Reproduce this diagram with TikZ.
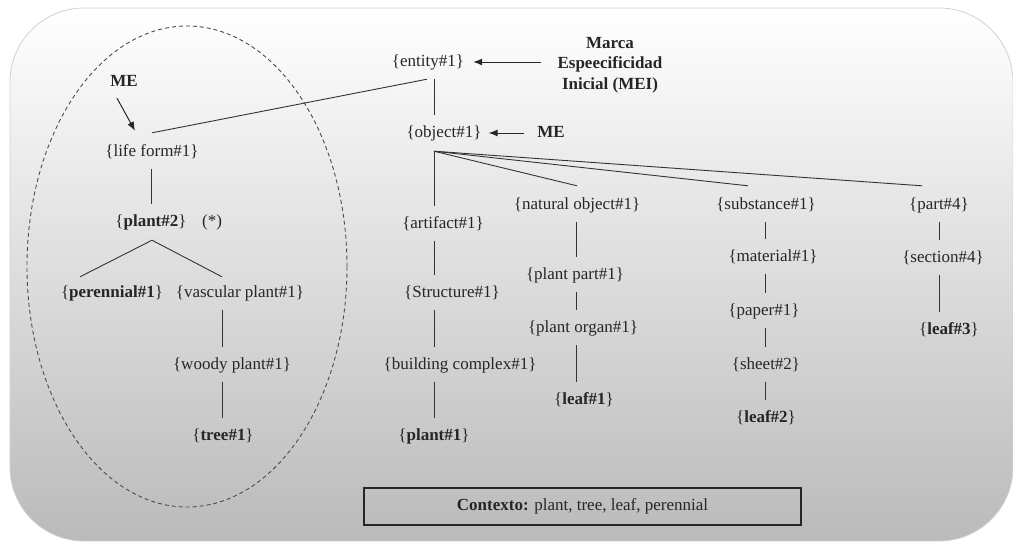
\documentclass[tikz,border=0pt]{standalone}
\usepackage{fontspec}
\setmainfont{LiberationSerif}[Extension=.ttf, UprightFont=*-Regular, BoldFont=*-Bold,
  ItalicFont=*-Italic, BoldItalicFont=*-BoldItalic]
\usetikzlibrary{arrows.meta,calc,shapes.geometric}
\begin{document}
\begin{tikzpicture}[x=1pt,y=-1pt,
  every node/.style={inner sep=0pt, text height=12pt, text depth=4pt,
    text=black!85, font=\rmfamily\fontsize{17}{20.5}\selectfont},
  link/.style={draw=black!80, line width=0.9pt, shorten <=9pt, shorten >=10pt},
  fan/.style={draw=black!80, line width=0.9pt},
  arr/.style={draw=black!85, line width=1pt, -{Latex[length=9pt,width=7pt]}},
  ]
\useasboundingbox (0,0) rectangle (1013,542);
% rounded panel with vertical gradient
\shade[top color=white, bottom color=black!27, draw=black!18, line width=0.8pt,
  rounded corners=74pt] (10,8) rectangle (1013,541);

% dashed region around the life-form branch
\node[draw=black!70, line width=0.9pt, dash pattern=on 4pt off 3pt, ellipse,
  minimum width=320pt, minimum height=481pt, text height=, text depth=] (region) at (187,266.5) {};

% column guides
\coordinate (cL) at (151,0);
\coordinate (cV) at (222,0);
\coordinate (cA) at (434,0);
\coordinate (cN) at (576,0);
\coordinate (cS) at (765,0);
\coordinate (cP) at (939,0);

% labels
\node (entity) at (428,62) {\{entity\#1\}};
\node[align=center, text height=, text depth=] (mei) at (610,65)
  {\textbf{Marca}\\\textbf{Espeecificidad}\\\textbf{Inicial (MEI)}};
\node (object) at (444,133) {\{object\#1\}};
\node (me2) at (551,133) {\textbf{ME}};
\node (me1) at (124,82) {\textbf{ME}};

% left branch
\node (lifeform) at (152,152) {\{life form\#1\}};
\node (plant2) at (151,222) {\{\textbf{plant\#2}\}};
\node (star) at (212,222) {(*)};
\node (perennial) at (112,293) {\{\textbf{perennial\#1}\}};
\node (vascular) at (240,293) {\{vascular plant\#1\}};
\node (woody) at (232,365) {\{woody plant\#1\}};
\node (tree) at (223,436) {\{\textbf{tree\#1}\}};

% artifact column
\node (artifact) at (443,224) {\{artifact\#1\}};
\node (structure) at (452,293) {\{Structure\#1\}};
\node (building) at (460,365) {\{building complex\#1\}};
\node (plant1) at (434,436) {\{\textbf{plant\#1}\}};

% natural object column
\node (natural) at (577,205) {\{natural object\#1\}};
\node (plantpart) at (575,275) {\{plant part\#1\}};
\node (organ) at (583,328) {\{plant organ\#1\}};
\node (leaf1) at (584,400) {\{\textbf{leaf\#1}\}};

% substance column
\node (substance) at (766,205) {\{substance\#1\}};
\node (material) at (773,257) {\{material\#1\}};
\node (paper) at (764,311) {\{paper\#1\}};
\node (sheet) at (766,365) {\{sheet\#2\}};
\node (leaf2) at (766,418) {\{\textbf{leaf\#2}\}};

% part column
\node (part) at (939,205) {\{part\#4\}};
\node (section) at (943,258) {\{section\#4\}};
\node (leaf3) at (949,330) {\{\textbf{leaf\#3}\}};

% context box
\node[draw=black!85, line width=1.1pt, minimum width=437pt, minimum height=37pt]
  (ctx) at (582.5,506.5) {\textbf{Contexto:} plant, tree, leaf, perennial};

% hierarchy links
\draw[link] (entity.south -| cA) -- (object.north -| cA);
\draw[fan] ($(entity.south -| cA)+(-7,9)$) -- ($(lifeform.north)+(0,-11)$);

\draw[link] (lifeform.south -| cL) -- (plant2.north -| cL);
\draw[fan] ($(plant2.south)+(1,10)$) -- ($(perennial.north)+(-32,-8)$);
\draw[fan] ($(plant2.south)+(1,10)$) -- ($(vascular.north -| cV)+(0,-8)$);
\draw[link] (vascular.south -| cV) -- (woody.north -| cV);
\draw[link] (woody.south -| cV) -- (tree.north -| cV);

\coordinate (fanO) at ($(object.south -| cA)+(0,10)$);
\draw[fan, shorten >=10pt] (fanO) -- (artifact.north -| cA);
\draw[fan] (fanO) -- ($(natural.north)+(0,-11)$);
\draw[fan] (fanO) -- ($(substance.north)+(-18,-11)$);
\draw[fan] (fanO) -- ($(part.north)+(-17,-11)$);

\draw[link] (artifact.south -| cA) -- (structure.north -| cA);
\draw[link] (structure.south -| cA) -- (building.north -| cA);
\draw[link] (building.south -| cA) -- (plant1.north -| cA);

\draw[link] (natural.south -| cN) -- (plantpart.north -| cN);
\draw[link] (plantpart.south -| cN) -- (organ.north -| cN);
\draw[link] (organ.south -| cN) -- (leaf1.north -| cN);

\draw[link] (substance.south -| cS) -- (material.north -| cS);
\draw[link] (material.south -| cS) -- (paper.north -| cS);
\draw[link] (paper.south -| cS) -- (sheet.north -| cS);
\draw[link] (sheet.south -| cS) -- (leaf2.north -| cS);

\draw[link] (part.south -| cP) -- (section.north -| cP);
\draw[link] (section.south -| cP) -- (leaf3.north -| cP);

% marker arrows
\draw[arr, shorten <=16pt, shorten >=9pt] (mei.west |- entity) -- (entity.east);
\draw[arr, shorten <=13pt, shorten >=7pt] (me2.west) -- (object.east);
\draw[arr] ($(me1.south)+(-7,8)$) -- ($(lifeform.north)+(-17,-13)$);
\end{tikzpicture}
\end{document}
